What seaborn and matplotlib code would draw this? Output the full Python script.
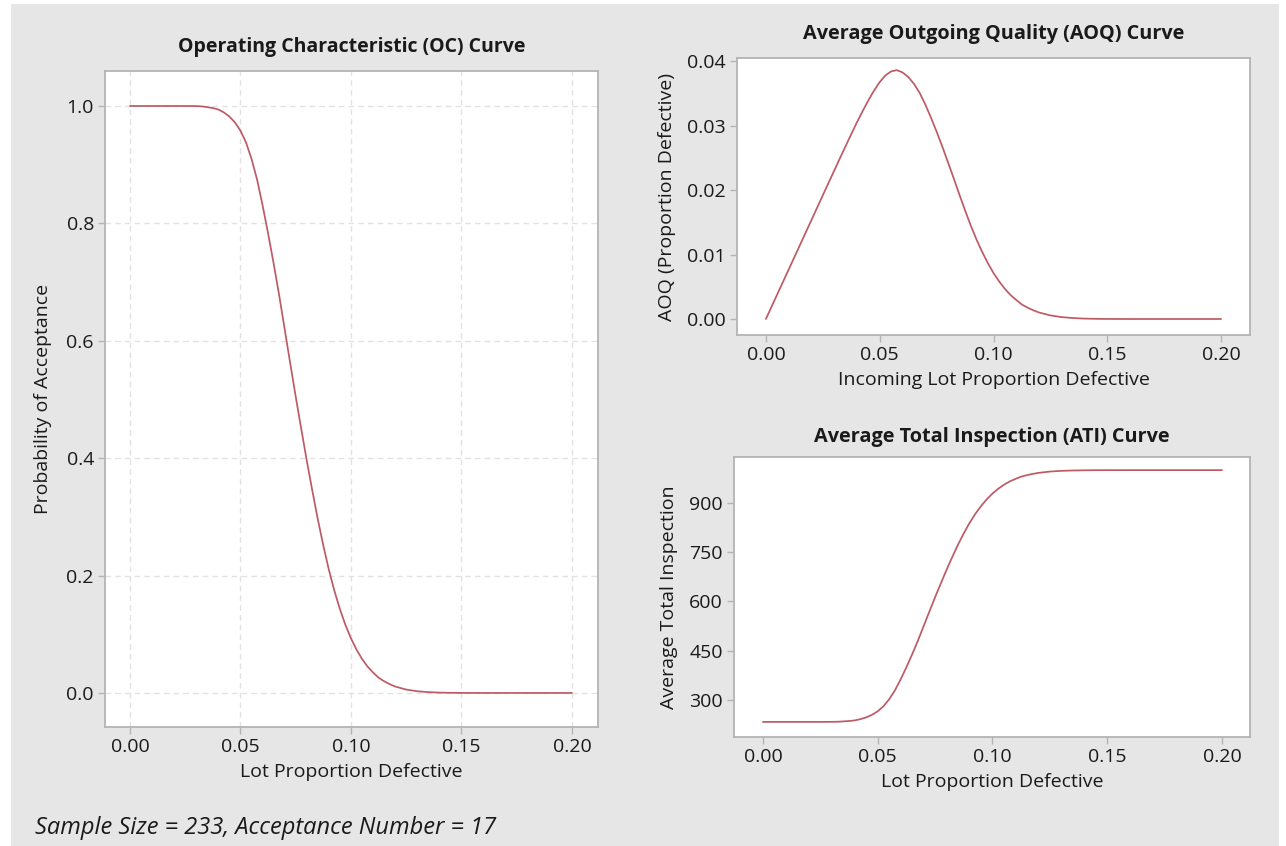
import matplotlib
matplotlib.use("Agg")
import matplotlib.pyplot as plt
from matplotlib.patches import Rectangle
import pandas as pd
import seaborn as sns

# lot proportion defective (x) and the values
p_defective = [0.000, 0.005, 0.010, 0.015, 0.020, 0.025, 0.030, 0.0325, 0.035, 0.0375,
               0.040, 0.0425, 0.045, 0.0475, 0.050, 0.0525, 0.055, 0.0575, 0.060, 0.0625,
               0.065, 0.0675, 0.070, 0.0725, 0.075, 0.0775, 0.080, 0.0825, 0.085, 0.0875,
               0.090, 0.0925, 0.095, 0.0975, 0.100, 0.1025, 0.105, 0.1075, 0.110, 0.1125,
               0.115, 0.1175, 0.120, 0.125, 0.130, 0.135, 0.140, 0.145, 0.150, 0.160,
               0.170, 0.180, 0.190, 0.200]

prob_accept = [1.000, 1.000, 1.000, 1.000, 1.000, 1.000, 0.9998, 0.9993, 0.998, 0.9965,
               0.994, 0.989, 0.982, 0.972, 0.958, 0.938, 0.910, 0.875, 0.831, 0.783,
               0.732, 0.678, 0.620, 0.562, 0.505, 0.450, 0.396, 0.345, 0.296, 0.251,
               0.210, 0.174, 0.143, 0.116, 0.093, 0.074, 0.058, 0.045, 0.035, 0.026,
               0.020, 0.015, 0.011, 0.0058, 0.0029, 0.0014, 0.0006, 0.0003, 0.0001, 0.0,
               0.0, 0.0, 0.0, 0.0]

aoq = [0.0, 0.00384, 0.00767, 0.0115, 0.01534, 0.01918, 0.0230, 0.02491, 0.02679, 0.02866,
       0.03050, 0.03224, 0.03389, 0.03541, 0.03674, 0.03777, 0.03839, 0.03859, 0.03824, 0.03754,
       0.03649, 0.03510, 0.03329, 0.03125, 0.02905, 0.02675, 0.02430, 0.02183, 0.01930, 0.01685,
       0.01450, 0.01235, 0.01042, 0.00867, 0.00713, 0.00582, 0.00467, 0.00371, 0.00295, 0.00224,
       0.00176, 0.00135, 0.00101, 0.00056, 0.00029, 0.00015, 0.00006, 0.00003, 0.00001, 0.0,
       0.0, 0.0, 0.0, 0.0]

ati = [233, 233, 233, 233, 233, 233, 233.2, 233.5, 234.5, 235.7,
       237.6, 241.4, 246.8, 254.5, 265.2, 280.6, 302.0, 328.9, 362.6, 399.4,
       438.6, 480.0, 524.5, 568.9, 612.6, 654.8, 696.3, 735.4, 773.0, 807.5,
       838.9, 866.5, 890.3, 911.0, 928.7, 943.2, 955.5, 965.5, 973.2, 980.1,
       984.7, 988.5, 991.6, 995.6, 997.8, 998.9, 999.5, 999.8, 999.9, 1000,
       1000, 1000, 1000, 1000]

x_ticks = [0.00, 0.05, 0.10, 0.15, 0.20]
oc_ticks = [0.0, 0.2, 0.4, 0.6, 0.8, 1.0]
aoq_ticks = [0.00, 0.01, 0.02, 0.03, 0.04]
ati_ticks = [300, 450, 600, 750, 900]

df = pd.DataFrame({'p': p_defective, 'pa': prob_accept, 'aoq': aoq, 'ati': ati})

sns.set_style("ticks")
plt.rcParams['font.family'] = ['Open Sans', 'DejaVu Sans']

LINE = '#bd5a66'
BG = '#e6e6e6'
FRAME = '#b4b4b4'
TXT = '#1a1a1a'
W, H = 1286, 846


def px_axes(fig, left, top, right, bottom):
    return fig.add_axes([left / W, 1 - bottom / H, (right - left) / W, (bottom - top) / H])


def style(ax):
    ax.set_facecolor('white')
    for s in ax.spines.values():
        s.set_color(FRAME)
        s.set_linewidth(1.3)
    ax.tick_params(direction='out', length=5, width=1, color=FRAME,
                   labelsize=14, labelcolor=TXT, pad=3)


fig = plt.figure(figsize=(W / 100, H / 100), dpi=100)
fig.patch.set_facecolor('white')
fig.add_artist(Rectangle((11 / W, 0), (1279 - 11) / W, 842 / H, transform=fig.transFigure,
                         facecolor=BG, edgecolor='none', zorder=-10))

# OC curve
ax1 = px_axes(fig, 105, 71, 598, 727)
style(ax1)
ax1.grid(True, color='#e2e2e2', linestyle=(0, (4, 3)), linewidth=1)
ax1.set_axisbelow(True)
sns.lineplot(data=df, x='p', y='pa', ax=ax1, color=LINE, linewidth=1.25)
ax1.set_xlim(-0.0113, 0.2118)
ax1.set_ylim(-0.058, 1.0596)
ax1.set_xticks(x_ticks, [f'{t:.2f}' for t in x_ticks])
ax1.set_yticks(oc_ticks, [f'{t:.1f}' for t in oc_ticks])
ax1.set_title('Operating Characteristic (OC) Curve', fontsize=14, fontweight='bold',
              color=TXT, pad=14)
ax1.set_xlabel('Lot Proportion Defective', fontsize=14, color=TXT, labelpad=5)
ax1.set_ylabel('Probability of Acceptance', fontsize=14, color=TXT, labelpad=10)

# AOQ curve
ax2 = px_axes(fig, 737, 58, 1250, 335)
style(ax2)
sns.lineplot(data=df, x='p', y='aoq', ax=ax2, color=LINE, linewidth=1.25)
ax2.set_xlim(-0.0127, 0.2127)
ax2.set_ylim(-0.00248, 0.04047)
ax2.set_xticks(x_ticks, [f'{t:.2f}' for t in x_ticks])
ax2.set_yticks(aoq_ticks, [f'{t:.2f}' for t in aoq_ticks])
ax2.set_title('Average Outgoing Quality (AOQ) Curve', fontsize=14.3, fontweight='bold',
              color=TXT, pad=14)
ax2.set_xlabel('Incoming Lot Proportion Defective', fontsize=14, color=TXT, labelpad=5)
ax2.set_ylabel('AOQ (Proportion Defective)', fontsize=14, color=TXT, labelpad=8)

# ATI curve
ax3 = px_axes(fig, 734, 457, 1250, 737)
style(ax3)
sns.lineplot(data=df, x='p', y='ati', ax=ax3, color=LINE, linewidth=1.25)
ax3.set_xlim(-0.0126, 0.2122)
ax3.set_ylim(187, 1040)
ax3.set_xticks(x_ticks, [f'{t:.2f}' for t in x_ticks])
ax3.set_yticks(ati_ticks, [str(t) for t in ati_ticks])
ax3.set_title('Average Total Inspection (ATI) Curve', fontsize=14.3, fontweight='bold',
              color=TXT, pad=11)
ax3.set_xlabel('Lot Proportion Defective', fontsize=14, color=TXT, labelpad=5)
ax3.set_ylabel('Average Total Inspection', fontsize=14, color=TXT, labelpad=8)

fig.text(35 / W, 1 - 828 / H, 'Sample Size = 233, Acceptance Number = 17',
         fontsize=17, style='italic', color=TXT, va='center', ha='left')

fig.savefig('out.png', dpi=100)
